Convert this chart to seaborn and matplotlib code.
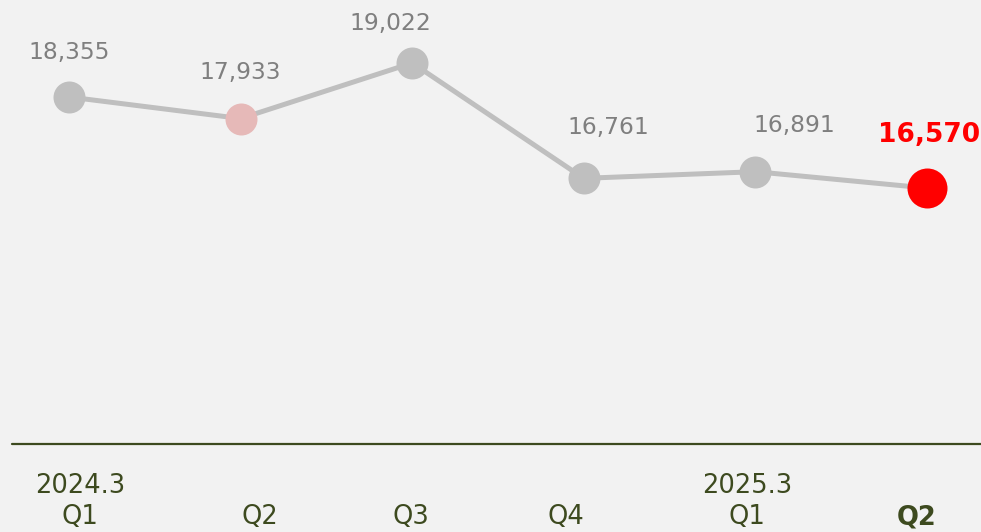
import matplotlib
matplotlib.use("Agg")
import matplotlib.pyplot as plt
import seaborn as sns
import pandas as pd

# data
quarters = ["Q1", "Q2", "Q3", "Q4", "Q1", "Q2"]
years = ["2024.3", "", "", "", "2025.3", ""]
values = [18355, 17933, 19022, 16761, 16891, 16570]
point_colors = ["#bfbfbf", "#e6b9b8", "#bfbfbf", "#bfbfbf", "#bfbfbf", "#ff0000"]

df = pd.DataFrame({"x": range(len(values)), "value": values})

sns.set_style("white")
plt.rcParams["font.family"] = ["DejaVu Sans"]

fig = plt.figure(figsize=(9.81, 5.32), dpi=100, facecolor="#f2f2f2")
ax = fig.add_axes([0, 0, 1, 1])
ax.set_facecolor("#f2f2f2")

sns.lineplot(data=df, x="x", y="value", color="#bfbfbf", linewidth=3.6, ax=ax, zorder=1)
sizes = [32 if c != "#ff0000" else 40 for c in point_colors]
for i in range(len(values)):
    ax.scatter(i, values[i], s=(sizes[i] * 0.72) ** 2, color=point_colors[i], zorder=3, linewidths=0)

# label offsets in pixels
offsets = [(0, 45), (0, 46), (-22, 39), (25, 51), (39, 46), (2, 53)]
for i, v in enumerate(values):
    last = i == len(values) - 1
    ax.annotate(f"{v:,}", (i, v), xytext=offsets[i], textcoords="offset pixels",
                ha="center", va="center",
                fontsize=19 if last else 16.8,
                fontweight="bold" if last else "normal",
                color="#ff0000" if last else "#7f7f7f")

ax.set_xlim(-69 / 171.6, (981 - 69) / 171.6)
ax.set_ylim(18355 - 435 * 19.6, 18355 + 97 * 19.6)
ax.axhline(18355 - 347 * 19.6, xmin=12 / 981, xmax=1, color="#3d4a1f", linewidth=1.6)

# category labels sit a bit off the points in the original
tick_dx = [11, 19, -1, -18, -8, -10]
for i in range(len(quarters)):
    last = i == len(quarters) - 1
    ax.annotate(quarters[i], (i, 1 - 517 / 532), xycoords=ax.get_xaxis_transform(),
                xytext=(tick_dx[i], 0), textcoords="offset pixels",
                ha="center", va="center", fontsize=18.5,
                fontweight="bold" if last else "normal", color="#3d4a1f")
    if years[i]:
        ax.annotate(years[i], (i, 1 - 486 / 532), xycoords=ax.get_xaxis_transform(),
                    xytext=(tick_dx[i], 0), textcoords="offset pixels",
                    ha="center", va="center", fontsize=18.5, color="#3d4a1f")

ax.axis("off")
fig.savefig("out.png", dpi=100, facecolor="#f2f2f2")
